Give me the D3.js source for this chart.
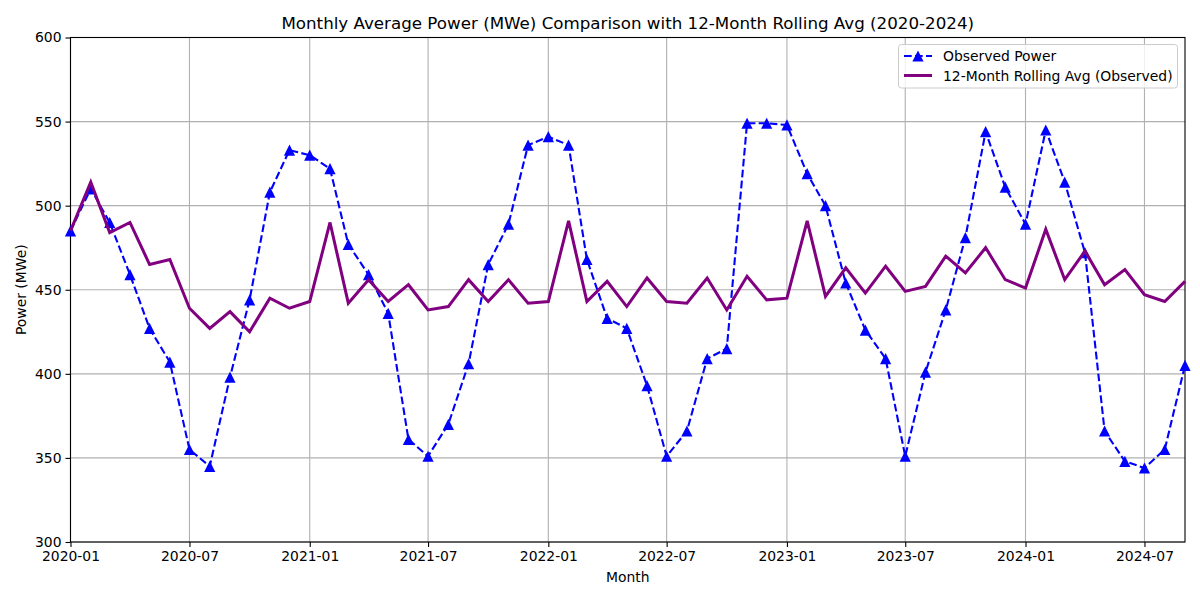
<!DOCTYPE html>
<html>
<head>
<meta charset="utf-8">
<script src="https://cdn.jsdelivr.net/npm/d3@7"></script>
<style>
  body { margin: 0; background: #fff; }
  svg text { font-family: "DejaVu Sans", sans-serif; fill: #000; }
</style>
</head>
<body>
<div id="chart"></div>
<script>
// monthly values, 2020-01 .. 2024-09
var months = [
  "2020-01","2020-02","2020-03","2020-04","2020-05","2020-06","2020-07","2020-08","2020-09","2020-10","2020-11","2020-12",
  "2021-01","2021-02","2021-03","2021-04","2021-05","2021-06","2021-07","2021-08","2021-09","2021-10","2021-11","2021-12",
  "2022-01","2022-02","2022-03","2022-04","2022-05","2022-06","2022-07","2022-08","2022-09","2022-10","2022-11","2022-12",
  "2023-01","2023-02","2023-03","2023-04","2023-05","2023-06","2023-07","2023-08","2023-09","2023-10","2023-11","2023-12",
  "2024-01","2024-02","2024-03","2024-04","2024-05","2024-06","2024-07","2024-08","2024-09"
];
var observed = [
  485, 510, 490, 459, 427, 407, 355, 345, 398, 444, 508, 533,
  530, 522, 477, 459, 436, 361, 351, 370, 406, 465, 489, 536,
  541, 536, 468, 433, 427, 393, 351, 366, 409, 415, 549, 549,
  548, 519, 500, 454, 426, 409, 351, 401, 438, 481, 544, 511,
  489, 545, 514, 472, 366, 348, 344, 355, 405
];
var rolling = [
  485, 514, 484, 490, 465, 468, 439, 427, 437, 425, 445, 439,
  443, 490, 442, 456, 443, 453, 438, 440, 456, 443, 456, 442,
  443, 491, 443, 455, 440, 457, 443, 442, 457, 438, 458, 444,
  445, 491, 446, 463, 448, 464, 449, 452, 470, 460, 475, 456,
  451, 486, 456, 473, 453, 462, 447, 443, 455
];
var xTicks = ["2020-01","2020-07","2021-01","2021-07","2022-01","2022-07","2023-01","2023-07","2024-01","2024-07"];
var yTicks = [300, 350, 400, 450, 500, 550, 600];

var W = 1200, H = 600;
var m = {left: 70.5, right: 1185, top: 37.5, bottom: 542};
var parse = d3.timeParse("%Y-%m");
var fmt = d3.timeFormat("%Y-%m");

var x = d3.scaleTime()
  .domain([parse(months[0]), parse(months[months.length - 1])])
  .range([m.left, m.right]);
var y = d3.scaleLinear().domain([300, 600]).range([m.bottom, m.top]);

var svg = d3.select("#chart").append("svg").attr("width", W).attr("height", H);

// grid
var grid = svg.append("g");
grid.selectAll(".gx").data(xTicks).enter().append("line")
  .attr("x1", function (d) { return x(parse(d)); })
  .attr("x2", function (d) { return x(parse(d)); })
  .attr("y1", m.top).attr("y2", m.bottom)
  .attr("stroke", "#b0b0b0").attr("stroke-width", 1.1);
grid.selectAll(".gy").data(yTicks).enter().append("line")
  .attr("x1", m.left).attr("x2", m.right)
  .attr("y1", function (d) { return y(d); })
  .attr("y2", function (d) { return y(d); })
  .attr("stroke", "#b0b0b0").attr("stroke-width", 1.1);

// axes
var xAxis = d3.axisBottom(x).tickValues(xTicks.map(parse)).tickFormat(fmt).tickSize(5).tickPadding(4);
var yAxis = d3.axisLeft(y).tickValues(yTicks).tickSize(5).tickPadding(4);
var gx = svg.append("g").attr("transform", "translate(0," + m.bottom + ")").call(xAxis);
var gy = svg.append("g").attr("transform", "translate(" + m.left + ",0)").call(yAxis);
[gx, gy].forEach(function (g) {
  g.select(".domain").remove();
  g.selectAll(".tick line").attr("stroke", "#000").attr("stroke-width", 1.1);
  g.selectAll(".tick text").attr("font-size", "13.9px").attr("fill", "#000");
});

// frame
svg.append("rect")
  .attr("x", m.left).attr("y", m.top)
  .attr("width", m.right - m.left).attr("height", m.bottom - m.top)
  .attr("fill", "none").attr("stroke", "#000").attr("stroke-width", 1.1);

var obsData = months.map(function (d, i) { return {date: parse(d), v: observed[i]}; });
var rollData = months.map(function (d, i) { return {date: parse(d), v: rolling[i]}; });

var line = d3.line()
  .x(function (d) { return x(d.date); })
  .y(function (d) { return y(d.v); });

var plot = svg.append("g");
plot.append("path").datum(obsData)
  .attr("d", line).attr("fill", "none")
  .attr("stroke", "#0000ff").attr("stroke-width", 2.1)
  .attr("stroke-dasharray", "7.7,3.3");

function tri(cx, cy, r) {
  return "M" + cx + "," + (cy - r) + "L" + (cx - r) + "," + (cy + r) + "L" + (cx + r) + "," + (cy + r) + "Z";
}
plot.selectAll(".mk").data(obsData).enter().append("path")
  .attr("d", function (d) { return tri(x(d.date), y(d.v), 5.6); })
  .attr("fill", "#0000ff");

plot.append("path").datum(rollData)
  .attr("d", line).attr("fill", "none")
  .attr("stroke", "#800080").attr("stroke-width", 3)
  .attr("stroke-linejoin", "miter");

// title and labels
svg.append("text").attr("x", (m.left + m.right) / 2).attr("y", 29)
  .attr("text-anchor", "middle").attr("font-size", "16.7px")
  .text("Monthly Average Power (MWe) Comparison with 12-Month Rolling Avg (2020-2024)");
svg.append("text").attr("x", (m.left + m.right) / 2).attr("y", 582)
  .attr("text-anchor", "middle").attr("font-size", "13.9px").text("Month");
svg.append("text").attr("transform", "translate(26," + ((m.top + m.bottom) / 2) + ") rotate(-90)")
  .attr("text-anchor", "middle").attr("font-size", "13.9px").text("Power (MWe)");

// legend
var lg = svg.append("g");
lg.append("rect").attr("x", 898.5).attr("y", 44.5).attr("width", 279).attr("height", 43.5)
  .attr("rx", 3).attr("fill", "#fff").attr("fill-opacity", 0.8)
  .attr("stroke", "#cccccc").attr("stroke-width", 1);
lg.append("line").attr("x1", 904).attr("x2", 932).attr("y1", 56).attr("y2", 56)
  .attr("stroke", "#0000ff").attr("stroke-width", 2.1).attr("stroke-dasharray", "7.7,3.3");
lg.append("path").attr("d", tri(918, 56, 5.6)).attr("fill", "#0000ff");
lg.append("text").attr("x", 943).attr("y", 61).attr("font-size", "13.9px").text("Observed Power");
lg.append("line").attr("x1", 904).attr("x2", 932).attr("y1", 75.5).attr("y2", 75.5)
  .attr("stroke", "#800080").attr("stroke-width", 3);
lg.append("text").attr("x", 943).attr("y", 80.5).attr("font-size", "13.9px").text("12-Month Rolling Avg (Observed)");
</script>
</body>
</html>
